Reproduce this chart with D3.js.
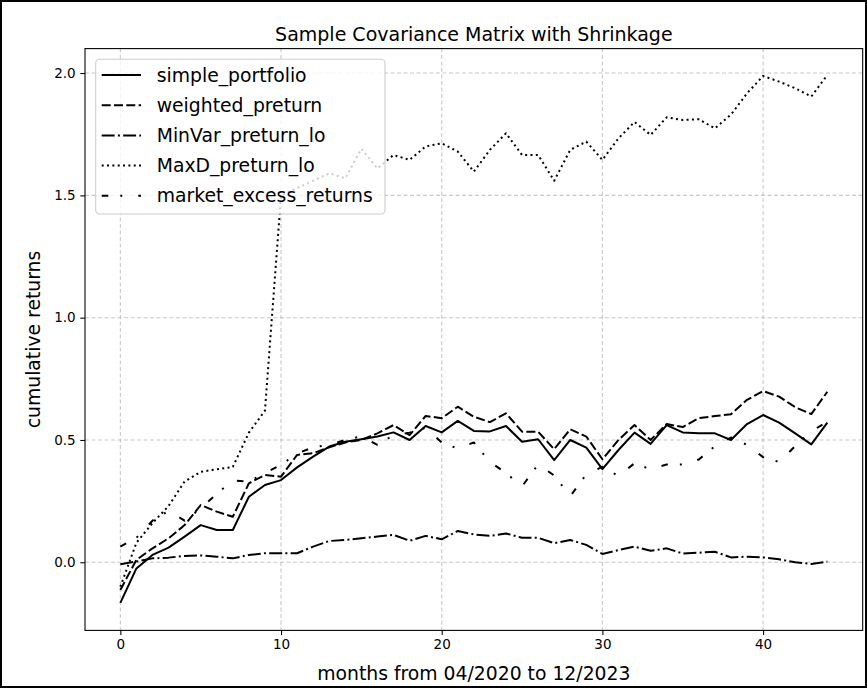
<!DOCTYPE html>
<html>
<head>
<meta charset="utf-8">
<script src="https://cdn.jsdelivr.net/npm/d3@7"></script>
<style>
  body { margin: 0; background: #fff; }
  svg { display: block; }
  text { font-family: "DejaVu Sans", sans-serif; fill: #000; }
</style>
</head>
<body>
<svg id="chart" width="867" height="688"></svg>
<script>
// Month index (0 = 04/2020)
const months = [0,1,2,3,4,5,6,7,8,9,10,11,12,13,14,15,16,17,18,19,20,21,22,
  23,24,25,26,27,28,29,30,31,32,33,34,35,36,37,38,39,40,41,42,43,44];

// Cumulative returns per strategy
const simplePortfolio = [-0.166,-0.025,0.03,0.06,0.105,0.152,0.132,0.132,0.268,0.316,0.336,
  0.388,0.432,0.473,0.493,0.503,0.514,0.531,0.50,0.557,0.531,0.578,0.537,0.535,0.557,
  0.493,0.503,0.418,0.50,0.469,0.381,0.459,0.53,0.484,0.561,0.531,0.527,0.527,0.50,
  0.565,0.602,0.571,0.527,0.482,0.571];
const weightedPreturn = [-0.113,0.01,0.057,0.098,0.152,0.234,0.207,0.186,0.323,0.357,0.35,
  0.439,0.446,0.47,0.49,0.50,0.527,0.561,0.52,0.598,0.589,0.636,0.595,0.573,0.609,
  0.534,0.534,0.462,0.544,0.514,0.421,0.50,0.561,0.50,0.565,0.553,0.589,0.598,0.605,
  0.664,0.70,0.677,0.634,0.606,0.697];
const minVarPreturnLo = [-0.008,0.003,0.016,0.019,0.026,0.028,0.023,0.016,0.03,0.037,0.037,
  0.037,0.064,0.087,0.091,0.098,0.105,0.112,0.088,0.108,0.094,0.128,0.114,0.108,0.118,
  0.10,0.10,0.078,0.091,0.071,0.034,0.05,0.064,0.047,0.057,0.036,0.039,0.043,0.02,
  0.023,0.02,0.012,0.0,-0.007,0.003];
const maxDPreturnLo = [-0.10,0.08,0.16,0.23,0.33,0.37,0.38,0.39,0.53,0.62,1.50,
  1.53,1.56,1.59,1.57,1.69,1.61,1.665,1.645,1.70,1.713,1.679,1.597,1.686,1.754,
  1.665,1.665,1.56,1.686,1.72,1.645,1.733,1.80,1.747,1.819,1.808,1.811,1.774,1.83,
  1.917,1.988,1.965,1.938,1.904,1.992];
const marketExcessReturns = [0.064,0.10,0.17,0.21,0.17,0.22,0.28,0.335,0.33,0.365,0.398,
  0.445,0.47,0.48,0.50,0.515,0.48,0.52,0.53,0.55,0.49,0.465,0.49,0.41,0.365,
  0.31,0.40,0.355,0.27,0.36,0.39,0.352,0.405,0.38,0.40,0.40,0.42,0.475,0.51,
  0.48,0.43,0.41,0.475,0.535,0.575];

const seriesNames = ["simple_portfolio","weighted_preturn","MinVar_preturn_lo",
  "MaxD_preturn_lo","market_excess_returns"];
const xTicks = [0,10,20,30,40];
const yTicks = [0.0,0.5,1.0,1.5,2.0];

const series = [
  { name: seriesNames[0], values: simplePortfolio,     dash: null },
  { name: seriesNames[1], values: weightedPreturn,     dash: "9,3.3" },
  { name: seriesNames[2], values: minVarPreturnLo,     dash: "12.96,3.24,2,3.24" },
  { name: seriesNames[3], values: maxDPreturnLo,       dash: "2,3.34" },
  { name: seriesNames[4], values: marketExcessReturns, dash: "6.6,12,2,16" }
];

const svg = d3.select("#chart");
const W = 867, H = 688;
const plot = { left: 85, right: 862.7, top: 48.6, bottom: 630.4 };

svg.append("rect").attr("width", W).attr("height", H).attr("fill", "#fff");

const x = d3.scaleLinear().domain([-2.2, 46.2]).range([plot.left, plot.right]);
const y = d3.scaleLinear().domain([-0.2785, 2.1]).range([plot.bottom, plot.top]);

// grid
const grid = svg.append("g");
grid.selectAll("line.gx").data(xTicks).join("line")
  .attr("x1", d => x(d)).attr("x2", d => x(d))
  .attr("y1", plot.top).attr("y2", plot.bottom)
  .attr("stroke", "#b0b0b0").attr("stroke-opacity", 0.7)
  .attr("stroke-width", 1.08).attr("stroke-dasharray", "4,2.5");
grid.selectAll("line.gy").data(yTicks).join("line")
  .attr("y1", d => y(d)).attr("y2", d => y(d))
  .attr("x1", plot.left).attr("x2", plot.right)
  .attr("stroke", "#b0b0b0").attr("stroke-opacity", 0.7)
  .attr("stroke-width", 1.08).attr("stroke-dasharray", "4,2.5");

// lines
const line = d3.line().x((d, i) => x(months[i])).y(d => y(d));
const lines = svg.append("g");
series.forEach(s => {
  lines.append("path")
    .datum(s.values)
    .attr("d", line)
    .attr("fill", "none")
    .attr("stroke", "#000")
    .attr("stroke-width", 2)
    .attr("stroke-dasharray", s.dash)
    .attr("stroke-linejoin", "round");
});

// axes
const xAxis = d3.axisBottom(x).tickValues(xTicks).tickSize(4.7).tickPadding(4.7)
  .tickFormat(d3.format("d"));
const yAxis = d3.axisLeft(y).tickValues(yTicks).tickSize(4.7).tickPadding(4.7)
  .tickFormat(d3.format(".1f"));

const gx = svg.append("g").attr("transform", `translate(0,${plot.bottom})`).call(xAxis);
const gy = svg.append("g").attr("transform", `translate(${plot.left},0)`).call(yAxis);
[gx, gy].forEach(g => {
  g.select(".domain").remove();
  g.selectAll(".tick line").attr("stroke", "#000").attr("stroke-width", 1.08);
  g.selectAll(".tick text").attr("font-size", 13.5).attr("fill", "#000")
    .attr("font-family", "DejaVu Sans, sans-serif");
});

// spines
svg.append("rect")
  .attr("x", plot.left).attr("y", plot.top)
  .attr("width", plot.right - plot.left).attr("height", plot.bottom - plot.top)
  .attr("fill", "none").attr("stroke", "#000").attr("stroke-width", 1.08);

// title & labels
const cx = (plot.left + plot.right) / 2;
svg.append("text").attr("x", cx).attr("y", plot.top - 8)
  .attr("text-anchor", "middle").attr("font-size", 19)
  .text("Sample Covariance Matrix with Shrinkage");
svg.append("text").attr("x", cx).attr("y", 680)
  .attr("text-anchor", "middle").attr("font-size", 18.8)
  .text("months from 04/2020 to 12/2023");
svg.append("text")
  .attr("transform", `translate(40,${(plot.top + plot.bottom) / 2}) rotate(-90)`)
  .attr("text-anchor", "middle").attr("font-size", 18.8)
  .text("cumulative returns");

// legend
const lg = svg.append("g");
lg.append("rect")
  .attr("x", 95.7).attr("y", 59.3).attr("width", 289.3).attr("height", 154.7)
  .attr("rx", 4).attr("ry", 4)
  .attr("fill", "#fff").attr("fill-opacity", 0.8)
  .attr("stroke", "#cccccc").attr("stroke-width", 1.08);
series.forEach((s, i) => {
  const ry = 75 + i * 30.2;
  lg.append("line")
    .attr("x1", 101.7).attr("x2", 141).attr("y1", ry).attr("y2", ry)
    .attr("stroke", "#000").attr("stroke-width", 2)
    .attr("stroke-dasharray", s.dash);
  lg.append("text").attr("x", 156.7).attr("y", ry).attr("dy", "0.35em")
    .attr("font-size", 18.8).text(s.name);
});

// outer frame
svg.append("rect").attr("x", 1).attr("y", 1).attr("width", W - 2).attr("height", H - 2)
  .attr("fill", "none").attr("stroke", "#000").attr("stroke-width", 2);
</script>
</body>
</html>
